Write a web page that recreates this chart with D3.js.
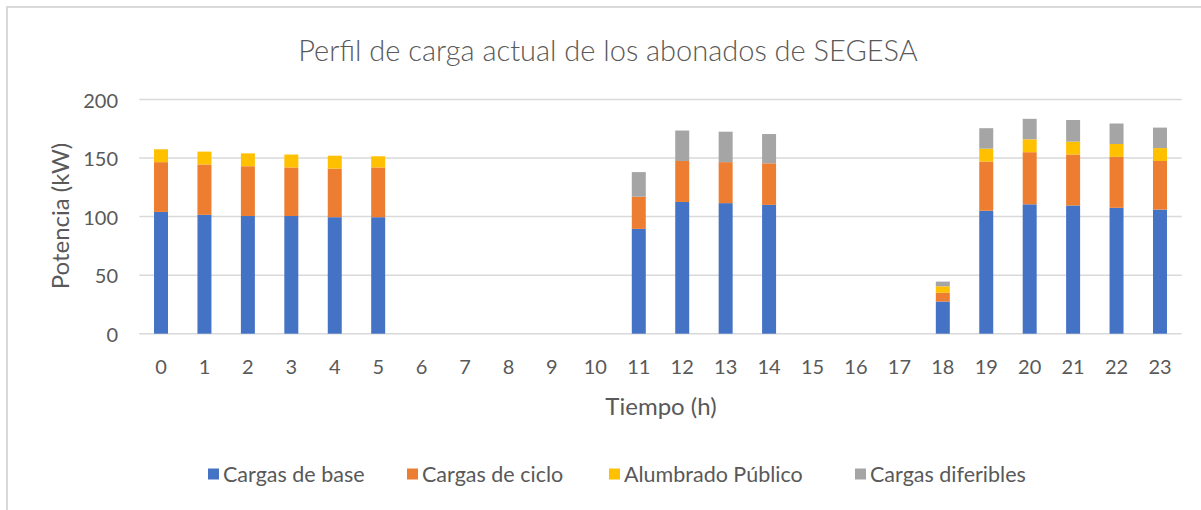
<!DOCTYPE html>
<html>
<head>
<meta charset="utf-8">
<script src="https://cdn.jsdelivr.net/npm/d3@7/dist/d3.min.js"></script>
<style>
  html, body { margin: 0; padding: 0; background: #fff; }
  svg { display: block; }
  text { font-family: Lato, "Open Sans", sans-serif; fill: #595959; }
</style>
</head>
<body>
<svg id="chart" width="1201" height="510"></svg>
<script>
const title = "Perfil de carga actual de los abonados de SEGESA";
const xTitle = "Tiempo (h)";
const yTitle = "Potencia (kW)";
const hours = ["0","1","2","3","4","5","6","7","8","9","10","11","12","13","14","15","16","17","18","19","20","21","22","23"];
const seriesNames = ["Cargas de base", "Cargas de ciclo", "Alumbrado Público", "Cargas diferibles"];
const seriesColors = ["#4472C4", "#ED7D31", "#FFC000", "#A5A5A5"];
const base       = [104, 101.5, 100.5, 100.5, 99.5, 99.5, 0, 0, 0, 0, 0, 89.5, 112.5, 111.5, 110, 0, 0, 0, 27.5, 105, 110.5, 109.5, 107.5, 106];
const ciclo      = [42.5, 43, 42.5, 41.5, 41.5, 42.5, 0, 0, 0, 0, 0, 27.5, 35, 35, 35.5, 0, 0, 0, 7.5, 42, 44.5, 43.5, 43.5, 41.5];
const alumbrado  = [11, 11, 11, 11, 11, 9.5, 0, 0, 0, 0, 0, 0, 0, 0, 0, 0, 0, 0, 5.5, 11, 11, 11, 11, 11];
const diferibles = [0, 0, 0, 0, 0, 0, 0, 0, 0, 0, 0, 21, 26, 26, 25, 0, 0, 0, 4, 17.5, 17.5, 18.5, 17.5, 17.5];
const yTicks = [0, 50, 100, 150, 200];

const svg = d3.select("#chart");
svg.append("rect").attr("width", 1201).attr("height", 510).attr("fill", "#fff");
svg.append("path").attr("d", "M7,510V7H1201").attr("fill", "none").attr("stroke", "#d9d9d9").attr("stroke-width", 2);

const x = d3.scaleBand().domain(hours).range([139.3, 1181.7]).paddingInner(0.678).paddingOuter(0.339);
const y = d3.scaleLinear().domain([0, 200]).range([333.7, 99.5]);

// gridlines
svg.append("g").selectAll("line").data(yTicks).join("line")
  .attr("x1", 139.3).attr("x2", 1181.7)
  .attr("y1", d => y(d)).attr("y2", d => y(d))
  .attr("stroke", "#d9d9d9").attr("stroke-width", 1.5);

// stacked data
const rows = hours.map((h, i) => ({h, s0: base[i], s1: ciclo[i], s2: alumbrado[i], s3: diferibles[i]}));
const stack = d3.stack().keys(["s0", "s1", "s2", "s3"]);
const layers = stack(rows);

svg.append("g").selectAll("g").data(layers).join("g")
  .attr("fill", (d, i) => seriesColors[i])
  .selectAll("rect").data(d => d.filter(p => p[1] - p[0] > 0)).join("rect")
  .attr("x", d => x(d.data.h))
  .attr("width", x.bandwidth())
  .attr("y", d => y(d[1]))
  .attr("height", d => y(d[0]) - y(d[1]));

// y axis labels
svg.append("g").selectAll("text").data(yTicks).join("text")
  .attr("x", 118).attr("y", d => y(d))
  .attr("text-anchor", "end").attr("dominant-baseline", "central")
  .attr("font-size", 20).text(d => d);

// x axis labels
svg.append("g").selectAll("text").data(hours).join("text")
  .attr("x", d => x(d) + x.bandwidth() / 2).attr("y", 366)
  .attr("text-anchor", "middle").attr("dominant-baseline", "central")
  .attr("font-size", 20).text(d => d);

// titles
svg.append("text").attr("x", 608).attr("y", 49).attr("text-anchor", "middle")
  .attr("dominant-baseline", "central").attr("font-size", 29).attr("font-weight", 300).text(title);
svg.append("text").attr("x", 661).attr("y", 405).attr("text-anchor", "middle")
  .attr("dominant-baseline", "central").attr("font-size", 24).text(xTitle);
svg.append("text").attr("transform", "translate(59,216) rotate(-90)").attr("text-anchor", "middle")
  .attr("dominant-baseline", "central").attr("font-size", 24).text(yTitle);

// legend
const legendX = [208, 407, 609, 855];
const lg = svg.append("g").selectAll("g").data(seriesNames).join("g")
  .attr("transform", (d, i) => `translate(${legendX[i]},474)`);
lg.append("rect").attr("x", 0).attr("y", -5.5).attr("width", 11).attr("height", 11)
  .attr("fill", (d, i) => seriesColors[i]);
lg.append("text").attr("x", 15).attr("y", 0).attr("dominant-baseline", "central")
  .attr("font-size", 21.5).text(d => d);
</script>
</body>
</html>
